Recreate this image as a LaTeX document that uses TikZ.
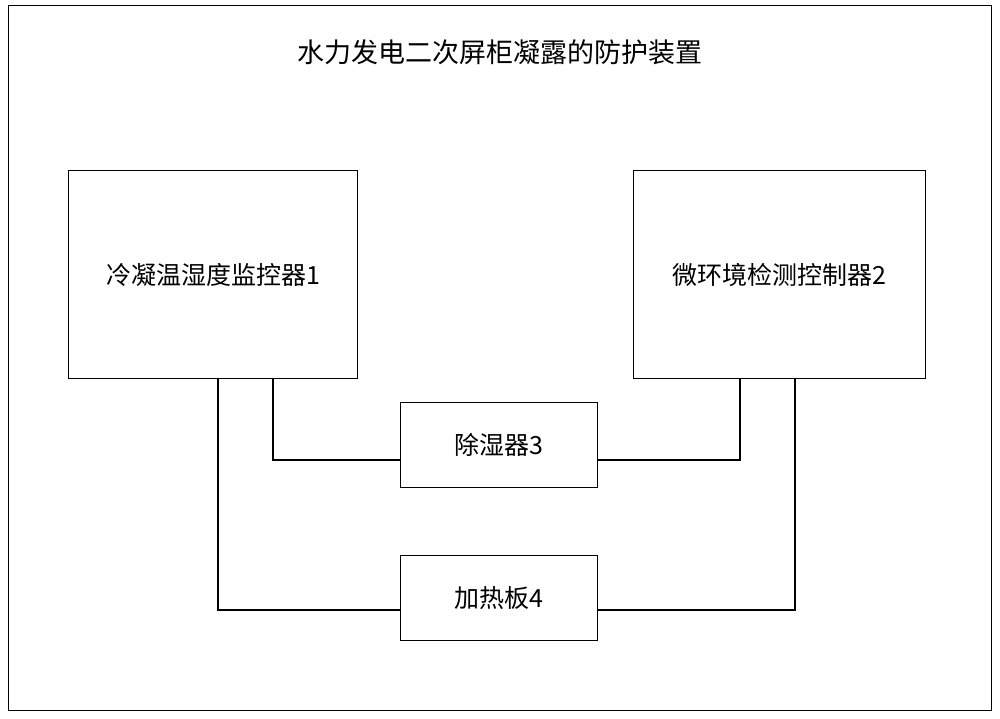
\documentclass[tikz,border=0pt]{standalone}
\usepackage{fontspec}
\setmainfont{Noto Sans CJK SC}
\begin{document}
\begin{tikzpicture}[x=1pt,y=-1pt,line width=1.3pt,
  box/.style={draw,rectangle,minimum width=#1,font=\fontsize{25}{28}\selectfont,inner sep=0pt},
  ln/.style={line width=1.3pt}]
\useasboundingbox (0,0) rectangle (1000,719);
\node[draw,minimum width=983,minimum height=705,anchor=north west,inner sep=0pt] (frame) at (8,5) {};
\node[font=\fontsize{27}{28}\selectfont] (title) at (500,52) {水力发电二次屏柜凝露的防护装置};
\node[box=289,minimum height=208,anchor=north west] (b1) at (68,170) {冷凝温湿度监控器1};
\node[box=292,minimum height=208,anchor=north west] (b2) at (633,170) {微环境检测控制器2};
\node[box=197,minimum height=85,anchor=north west] (b3) at (400,402) {除湿器3};
\node[box=197,minimum height=85,anchor=north west] (b4) at (400,555) {加热板4};
\draw[ln] (b1.south -| 273,0) |- (b3.west |- 0,460);
\draw[ln] (b1.south -| 218,0) |- (b4.west |- 0,610);
\draw[ln] (b2.south -| 740,0) |- (b3.east |- 0,460);
\draw[ln] (b2.south -| 795,0) |- (b4.east |- 0,610);
\end{tikzpicture}
\end{document}
